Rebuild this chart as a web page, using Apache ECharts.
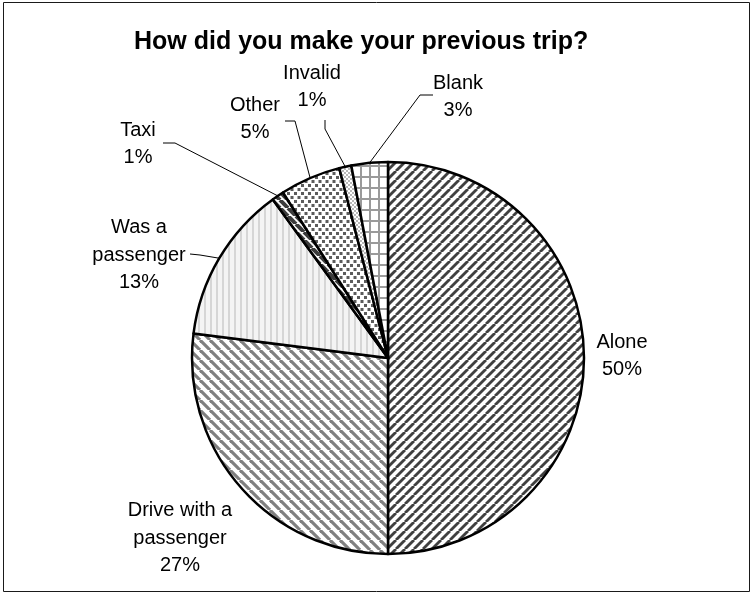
<!DOCTYPE html>
<html>
<head>
<meta charset="utf-8">
<script src="https://cdn.jsdelivr.net/npm/echarts@6/dist/echarts.min.js"></script>
<style>
  html, body { margin: 0; padding: 0; background: #fff; }
  #chart { width: 751px; height: 594px; }
</style>
</head>
<body>
<div id="chart"></div>
<script>
// Survey answers, share of respondents (%)
const categories = ['Alone', 'Drive with a passenger', 'Was a passenger', 'Taxi', 'Other', 'Invalid', 'Blank'];
const labelNames = ['Alone', 'Drive with a\npassenger', 'Was a\npassenger', 'Taxi', 'Other', 'Invalid', 'Blank'];
const shares = [50, 27, 13, 1, 5, 1, 3];

// Label anchor spots (text centre) and leader-line elbows
const labelSpots = [
  { x: 622, y: 356 },
  { x: 180, y: 538 },
  { x: 139, y: 255, line: [[200, 255], [190, 254]] },
  { x: 138, y: 144, line: [[175, 143], [163, 143]] },
  { x: 255, y: 119, line: [[295, 121], [285, 121]] },
  { x: 312, y: 87, line: [[325, 129], [325, 120]] },
  { x: 458, y: 97, line: [[420, 95], [433, 95]] }
];

function tile(w, h, draw) {
  const c = document.createElement('canvas');
  c.width = w; c.height = h;
  const g = c.getContext('2d');
  g.fillStyle = '#fff';
  g.fillRect(0, 0, w, h);
  draw(g, w, h);
  return { image: c, repeat: 'repeat' };
}
function upDiagonal(s, lw, color) {
  return tile(s, s, (g) => {
    g.strokeStyle = color; g.lineWidth = lw;
    for (const k of [-s, 0, s]) {
      g.beginPath(); g.moveTo(k, s); g.lineTo(k + s, 0); g.stroke();
    }
  });
}
function downDiagonal(s, lw, color) {
  return tile(s, s, (g) => {
    g.strokeStyle = color; g.lineWidth = lw;
    for (const k of [-s, 0, s]) {
      g.beginPath(); g.moveTo(k, 0); g.lineTo(k + s, s); g.stroke();
    }
  });
}
const fills = [
  upDiagonal(9, 2.8, '#404040'),
  downDiagonal(10, 3.2, '#808080'),
  tile(6, 4, (g) => { g.fillStyle = '#f4f4f4'; g.fillRect(0, 0, 6, 4); g.fillStyle = '#d6d6d6'; g.fillRect(0, 0, 2, 4); }),
  downDiagonal(8, 4, '#3c3c3c'),
  tile(7, 8, (g) => { g.fillStyle = '#5c5c5c'; g.fillRect(0, 0, 3, 3); g.fillRect(3.5, 4, 3, 3); }),
  tile(4, 4, (g) => { g.fillStyle = '#b8b8b8'; g.fillRect(0, 0, 2, 2); g.fillRect(2, 2, 2, 2); }),
  tile(9, 11, (g) => { g.fillStyle = '#9a9a9a'; g.fillRect(0, 0, 2, 11); g.fillRect(0, 0, 9, 2); })
];

const chart = echarts.init(document.getElementById('chart'), null, { renderer: 'canvas' });

chart.setOption({
  backgroundColor: '#fff',
  animation: false,
  title: {
    text: 'How did you make your previous trip?',
    left: 134,
    top: 27,
    padding: 0,
    textStyle: {
      fontFamily: 'Liberation Sans, Arial, sans-serif',
      fontSize: 25,
      fontWeight: 'bold',
      color: '#000',
      lineHeight: 30
    }
  },
  graphic: [{
    type: 'rect',
    shape: { x: 3.5, y: 2.5, width: 746, height: 589 },
    style: { fill: 'none', stroke: '#1a1a1a', lineWidth: 1 },
    silent: true,
    z: 100
  }],
  series: [{
    type: 'pie',
    center: [388, 358],
    radius: [0, 196],
    startAngle: 90,
    clockwise: true,
    avoidLabelOverlap: false,
    itemStyle: { borderColor: '#000', borderWidth: 2.5 },
    label: {
      show: true,
      position: 'outside',
      fontFamily: 'Liberation Sans, Arial, sans-serif',
      fontSize: 20,
      lineHeight: 27.5,
      color: '#000',
      align: 'center',
      formatter: (p) => labelNames[p.dataIndex] + '\n' + p.value + '%'
    },
    labelLine: {
      show: true,
      lineStyle: { color: '#000', width: 1 }
    },
    labelLayout: (params) => {
      const spot = labelSpots[params.dataIndex];
      const out = { x: spot.x, y: spot.y, align: 'center', verticalAlign: 'middle' };
      if (spot.line && params.labelLinePoints) {
        out.labelLinePoints = [params.labelLinePoints[0], spot.line[0], spot.line[1]];
      }
      return out;
    },
    data: categories.map((name, i) => ({
      name: name,
      value: shares[i],
      itemStyle: { color: fills[i] },
      labelLine: { show: !!labelSpots[i].line }
    }))
  }]
});
</script>
</body>
</html>
